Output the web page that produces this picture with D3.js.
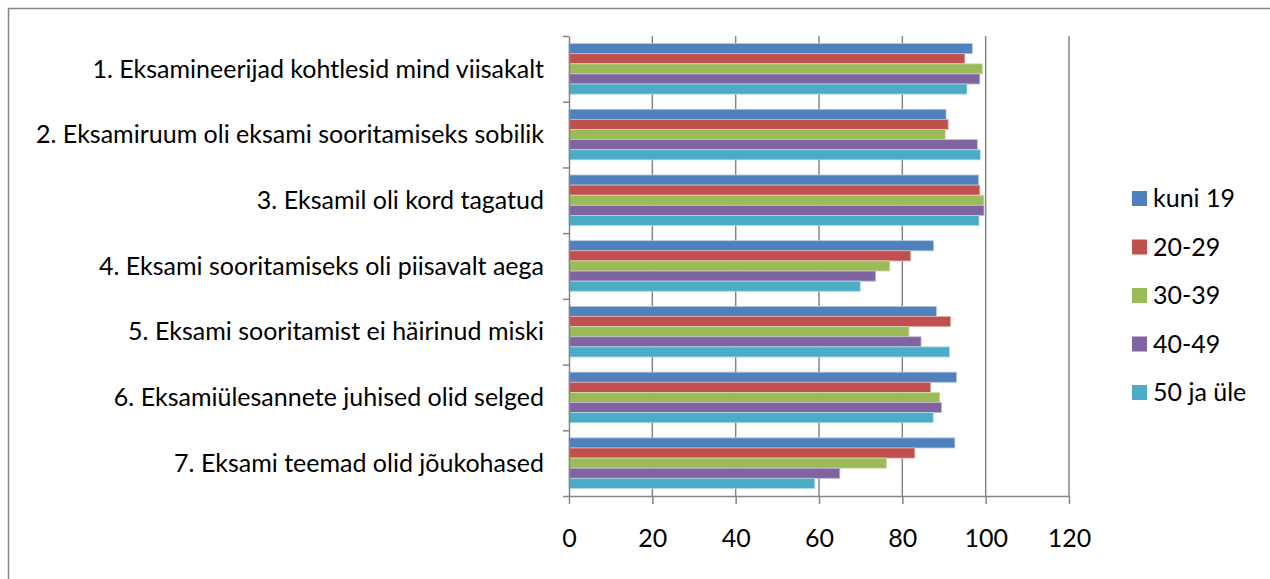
<!DOCTYPE html>
<html>
<head>
<meta charset="utf-8">
<script src="https://cdn.jsdelivr.net/npm/d3@7"></script>
<style>
  body { margin: 0; background: #fff; }
  svg text { font-family: Lato, "Open Sans", sans-serif; fill: #000; }
</style>
</head>
<body>
<svg id="chart"></svg>
<script>
// survey answers by age group, percent agreeing
const categories = [
    "1. Eksamineerijad kohtlesid mind viisakalt",
    "2. Eksamiruum oli eksami sooritamiseks sobilik",
    "3. Eksamil oli kord tagatud",
    "4. Eksami sooritamiseks oli piisavalt aega",
    "5. Eksami sooritamist ei häirinud miski",
    "6. Eksamiülesannete juhised olid selged",
    "7. Eksami teemad olid jõukohased"
];
const seriesNames = ["kuni 19", "20-29", "30-39", "40-49", "50 ja üle"];
const kuni19 = [96.8, 90.5, 98.3, 87.5, 88.2, 93.0, 92.6];
const age20 = [95.0, 91.0, 98.6, 82.0, 91.6, 86.8, 83.0];
const age30 = [99.2, 90.3, 99.6, 77.0, 81.6, 89.0, 76.2];
const age40 = [98.6, 98.0, 99.6, 73.6, 84.5, 89.4, 65.0];
const age50 = [95.5, 98.7, 98.4, 69.9, 91.3, 87.4, 59.0];
const xTicks = [0, 20, 40, 60, 80, 100, 120];

const colors = ["#4F81BD", "#C0504D", "#9BBB59", "#8064A2", "#4BACC6"];
const seriesValues = [kuni19, age20, age30, age40, age50];

const W = 1270, H = 579;
const plot = { left: 569, right: 1069, top: 36, bottom: 496 };
const fontSize = "25px";

const svg = d3.select("#chart")
    .attr("width", W)
    .attr("height", H);

// outer chart border
svg.append("rect")
    .attr("x", 8.5).attr("y", 8.5)
    .attr("width", 1300).attr("height", 600)
    .attr("fill", "none")
    .attr("stroke", "#868686")
    .attr("stroke-width", 1.5);

const x = d3.scaleLinear()
    .domain([0, 120])
    .range([plot.left, plot.right]);

const y0 = d3.scaleBand()
    .domain(categories)
    .range([plot.top, plot.bottom])
    .padding(0);

// bar width: 5 bars + 150% gap per category
const barH = y0.bandwidth() / 6.5;
const y1 = d3.scaleBand()
    .domain(seriesNames)
    .range([barH * 0.75, barH * 5.75]);

// gridlines
svg.append("g")
    .selectAll("line")
    .data(xTicks.slice(1))
    .enter()
    .append("line")
    .attr("x1", d => x(d)).attr("x2", d => x(d))
    .attr("y1", plot.top).attr("y2", plot.bottom)
    .attr("stroke", "#868686")
    .attr("stroke-width", 1.5);

// bars
const rows = [];
categories.forEach((c, i) => {
    seriesNames.forEach((s, j) => {
        rows.push({ cat: c, series: s, value: seriesValues[j][i], color: colors[j] });
    });
});

svg.append("g")
    .selectAll("rect")
    .data(rows)
    .enter()
    .append("rect")
    .attr("x", x(0))
    .attr("y", d => y0(d.cat) + y1(d.series))
    .attr("width", d => x(d.value) - x(0))
    .attr("height", y1.bandwidth())
    .attr("fill", d => d.color)
    .attr("stroke", d => d3.interpolateRgb(d.color, "#fff")(0.55))
    .attr("stroke-width", 0.8);

// bottom axis
const xAxis = svg.append("g")
    .attr("transform", `translate(0,${plot.bottom})`)
    .call(d3.axisBottom(x).tickValues(xTicks).tickSize(8).tickSizeOuter(0).tickPadding(25));
xAxis.select(".domain").attr("stroke", "#868686").attr("stroke-width", 1.5);
xAxis.selectAll(".tick line").attr("stroke", "#868686").attr("stroke-width", 1.5);
xAxis.selectAll("text")
    .style("font-size", fontSize)
    .style("font-family", "Lato, sans-serif")
    .attr("fill", "#000");

// left axis: ticks on category boundaries
const yLin = d3.scaleLinear().domain([0, categories.length]).range([plot.top, plot.bottom]);
const yAxis = svg.append("g")
    .attr("transform", `translate(${plot.left},0)`)
    .call(d3.axisLeft(yLin).ticks(categories.length).tickSize(6).tickSizeOuter(0).tickFormat(""));
yAxis.select(".domain").attr("stroke", "#868686").attr("stroke-width", 1.5);
yAxis.selectAll(".tick line").attr("stroke", "#868686").attr("stroke-width", 1.5);

// category labels
svg.append("g")
    .selectAll("text")
    .data(categories)
    .enter()
    .append("text")
    .attr("x", 544)
    .attr("y", d => y0(d) + y0.bandwidth() / 2)
    .attr("dy", "0.35em")
    .attr("text-anchor", "end")
    .style("font-size", fontSize)
    .text(d => d);

// legend
const legend = svg.append("g")
    .attr("transform", "translate(1132,191)");
const item = legend.selectAll("g")
    .data(seriesNames)
    .enter()
    .append("g")
    .attr("transform", (d, i) => `translate(0,${i * 48.5})`);
item.append("rect")
    .attr("width", 15).attr("height", 15)
    .attr("fill", (d, i) => colors[i]);
item.append("text")
    .attr("x", 21)
    .attr("y", 7.5)
    .attr("dy", "0.35em")
    .style("font-size", fontSize)
    .text(d => d);
</script>
</body>
</html>
